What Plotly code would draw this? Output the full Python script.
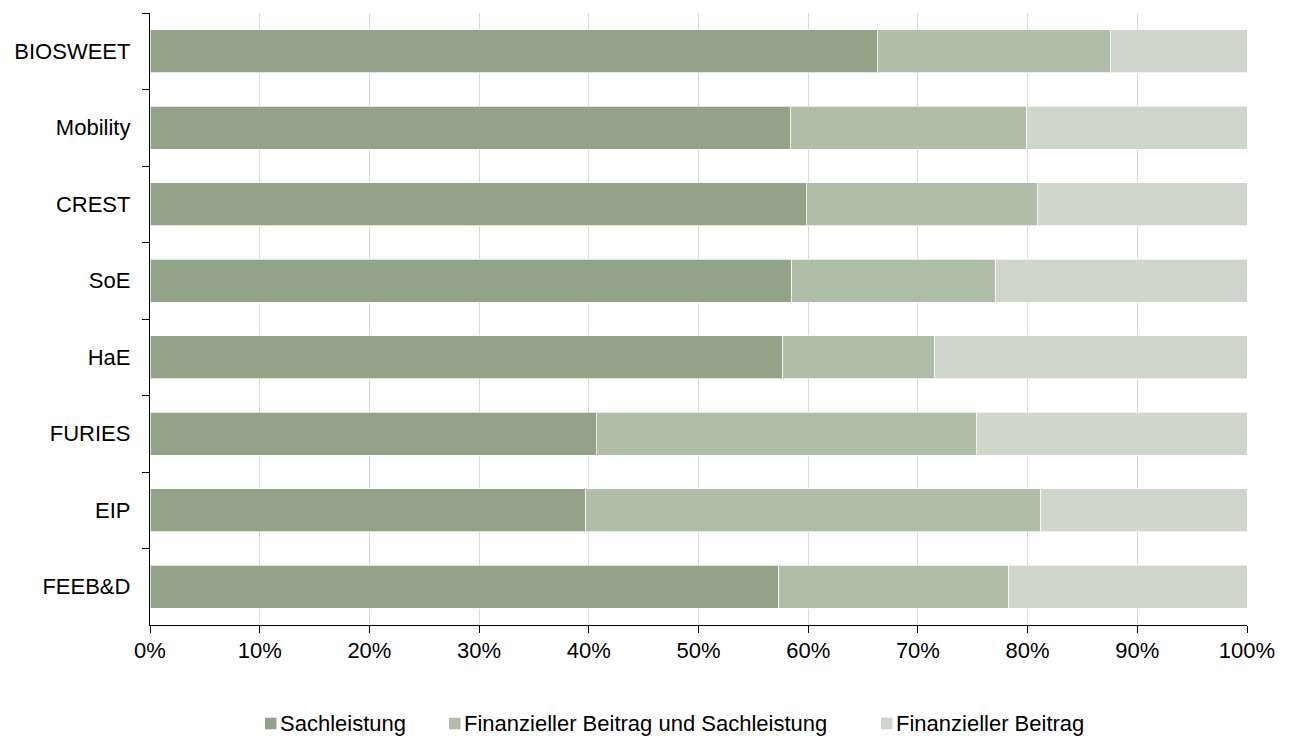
import plotly.graph_objects as go

# Projects, listed top to bottom
projects = ["BIOSWEET", "Mobility", "CREST", "SoE", "HaE", "FURIES", "EIP", "FEEB&D"]

# Share of contribution types per project (percent)
sachleistung = [66.3, 58.4, 59.8, 58.5, 57.7, 40.7, 39.7, 57.3]
fin_und_sach = [21.3, 21.5, 21.1, 18.6, 13.8, 34.6, 41.5, 21.0]
finanziell = [12.4, 20.1, 19.1, 22.9, 28.5, 24.7, 18.8, 21.7]

series_names = ["Sachleistung", "Finanzieller Beitrag und Sachleistung", "Finanzieller Beitrag"]
series_values = [sachleistung, fin_und_sach, finanziell]
series_colors = ["#93a388", "#afbea9", "#cfd7cb"]

W, H = 1292, 736
M_L, M_R, M_T, M_B = 150, 45, 13, 111
PLOT_W = W - M_L - M_R
PLOT_H = H - M_T - M_B

font_family = "Liberation Sans, Arial, sans-serif"
FS = 22

fig = go.Figure()
for name, vals, color in zip(series_names, series_values, series_colors):
    fig.add_trace(go.Bar(
        y=projects, x=vals, name=name, orientation="h",
        marker=dict(color=color, line=dict(color="rgba(255,255,255,0.7)", width=1)),
        showlegend=False,
    ))


def px_x(px):
    return (px - M_L) / PLOT_W


def px_y(py):
    return (H - M_B - py) / PLOT_H


# Legend row below the axis: swatch left edges (pixels)
legend_swatch_x = [265, 449, 881]
legend_y_center = 723.5
swatch = 11.5
shapes = []
annotations = []
for name, color, sx in zip(series_names, series_colors, legend_swatch_x):
    shapes.append(dict(
        type="rect", xref="paper", yref="paper",
        x0=px_x(sx), x1=px_x(sx + swatch),
        y0=px_y(legend_y_center + swatch / 2), y1=px_y(legend_y_center - swatch / 2),
        fillcolor=color, line=dict(width=0),
    ))
    annotations.append(dict(
        text=name, xref="paper", yref="paper",
        x=px_x(sx + swatch + 1), y=px_y(legend_y_center),
        xanchor="left", yanchor="middle", showarrow=False,
        font=dict(family=font_family, size=FS, color="#000000"),
    ))

fig.update_layout(
    barmode="stack",
    bargap=0.44,
    width=W, height=H,
    margin=dict(l=M_L, r=M_R, t=M_T, b=M_B, autoexpand=False),
    paper_bgcolor="white", plot_bgcolor="white",
    font=dict(family=font_family, size=FS, color="#000000"),
    showlegend=False,
    shapes=shapes,
    annotations=annotations,
    xaxis=dict(
        range=[0, 100], tickvals=list(range(0, 101, 10)),
        ticktext=[f"{v}%" for v in range(0, 101, 10)],
        showgrid=True, gridcolor="#d9d9d9", gridwidth=1,
        showline=True, linecolor="#000000", linewidth=1.3,
        ticks="outside", ticklen=7, tickcolor="#000000", tickwidth=1.3,
        ticklabelstandoff=-2,
        zeroline=False, fixedrange=True, automargin=False,
    ),
    yaxis=dict(
        categoryorder="array", categoryarray=projects, autorange="reversed",
        showline=True, linecolor="#000000", linewidth=1.3,
        ticks="outside", ticklen=7, tickcolor="#000000", tickwidth=1.3,
        tickson="boundaries", showgrid=False, ticklabelstandoff=14,
        automargin=False,
    ),
)

fig.write_html("out.html")
